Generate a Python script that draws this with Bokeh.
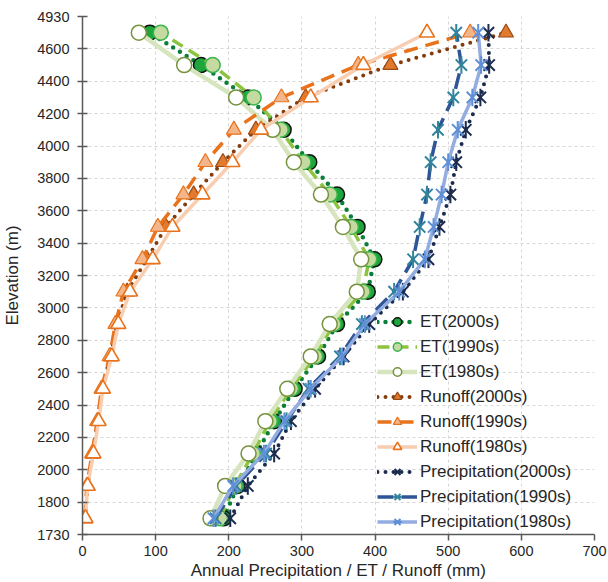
from bokeh.plotting import figure
from bokeh.models import FixedTicker, Legend, LegendItem
from bokeh.embed import file_html
from bokeh.resources import INLINE
import math

# Elevation band centres (m), bottom to top
elevation = [1830, 2030, 2230, 2430, 2630, 2830, 3030, 3230, 3430, 3630, 3830, 4030, 4230, 4430, 4630, 4830]

# ET (mm)
et_2000s = [193, 212, 238, 262, 290, 322, 348, 390, 399, 376, 348, 310, 275, 226, 162, 92]
et_1990s = [188, 208, 233, 256, 285, 318, 343, 383, 392, 367, 338, 302, 271, 234, 178, 107]
et_1980s = [175, 195, 227, 250, 280, 312, 338, 375, 381, 356, 326, 289, 260, 210, 139, 77]

# Runoff (mm)
runoff_2000s = [4, 7, 14, 21, 27, 38, 47, 61, 88, 114, 152, 192, 237, 305, 421, 579]
runoff_1990s = [3, 6, 13, 20, 26, 37, 45, 56, 82, 103, 138, 168, 207, 272, 377, 530]
runoff_1980s = [4, 7, 15, 22, 28, 40, 49, 65, 96, 123, 164, 205, 244, 312, 384, 471]

# Precipitation (mm)
precip_2000s = [202, 226, 262, 285, 318, 357, 392, 438, 473, 488, 503, 511, 524, 544, 556, 555]
precip_1990s = [182, 210, 251, 279, 309, 352, 382, 426, 452, 461, 471, 476, 486, 507, 518, 511]
precip_1980s = [179, 206, 248, 276, 312, 355, 386, 433, 468, 480, 491, 500, 513, 533, 545, 541]

y_ticks = [1730, 1930, 2130, 2330, 2530, 2730, 2930, 3130, 3330, 3530, 3730, 3930, 4130, 4330, 4530, 4730, 4930]
y_tick_labels = ["1730", "1800", "2000", "2200", "2400", "2600", "2800", "3000", "3200", "3400",
                 "3600", "3800", "4000", "4200", "4400", "4600", "4930"]
x_ticks = [0, 100, 200, 300, 400, 500, 600, 700]

FONT = "Liberation Sans"

p = figure(width=608, height=582, x_range=(0, 700), y_range=(1730, 4930),
           output_backend="svg", toolbar_location=None,
           min_border_left=82, min_border_right=14, min_border_top=16, min_border_bottom=48)
p.outline_line_color = None
p.background_fill_color = "white"

# axes
p.xaxis.ticker = FixedTicker(ticks=x_ticks)
p.yaxis.ticker = FixedTicker(ticks=y_ticks)
p.yaxis.major_label_overrides = {t: l for t, l in zip(y_ticks, y_tick_labels)}
for ax in (p.xaxis, p.yaxis):
    ax.axis_line_color = "#595959"
    ax.axis_line_width = 1.5
    ax.major_tick_line_color = "#595959"
    ax.major_tick_line_width = 1.5
    ax.minor_tick_line_color = None
    ax.major_label_text_font = FONT
    ax.major_label_text_font_size = "14.5px"
    ax.major_label_text_color = "#262626"
    ax.axis_label_text_font = FONT
    ax.axis_label_text_font_size = "17px"
    ax.axis_label_text_font_style = "normal"
    ax.axis_label_text_color = "#262626"
p.xaxis.major_tick_in = 0
p.xaxis.major_tick_out = 6
p.xaxis.major_label_standoff = 5
p.xaxis.axis_label_standoff = 2
p.yaxis.major_tick_in = 5
p.yaxis.major_tick_out = 5
p.yaxis.major_label_standoff = 8
p.yaxis.axis_label_standoff = 12
p.xaxis.axis_label = "Annual Precipitation / ET / Runoff (mm)"
p.yaxis.axis_label = "Elevation (m)"

for g in (p.xgrid, p.ygrid):
    g.grid_line_color = "#d6d6d6"
    g.grid_line_dash = "3 3"
    g.grid_line_width = 1

DOT = "0 8"

def series(xs, line_color, line_width, dash, kind, mcolor, mfill, msize, mlw):
    rs = []
    ln = p.line(xs, elevation, line_color=line_color, line_width=line_width,
                line_dash=dash, line_cap="round" if dash == DOT else "butt")
    rs.append(ln)
    if kind == "star":
        a = p.scatter(xs, elevation, marker="x", size=msize, line_color=mcolor, line_width=mlw)
        b = p.scatter(xs, elevation, marker="dash", size=msize * 1.1, angle=math.pi / 2,
                      line_color=mcolor, line_width=mlw)
        rs += [a, b]
    else:
        m = p.scatter(xs, elevation, marker=kind, size=msize, line_color=mcolor,
                      fill_color=mfill, line_width=mlw)
        rs.append(m)
    return rs

items = []
specs = [
    ("ET(2000s)", et_2000s, "#0b7f3a", 4.5, DOT, "circle", "#111111", "#1ea63c", 15, 1.5),
    ("ET(1990s)", et_1990s, "#8cc43f", 3.5, "12 7", "circle", "#39b54a", "#c5daa0", 15, 1.5),
    ("ET(1980s)", et_1980s, "#d6e5be", 4.5, "solid", "circle", "#76923c", "white", 15, 1.5),
    ("Runoff(2000s)", runoff_2000s, "#843c0c", 4, DOT, "triangle", "#9a4a14", "#e07a2e", 15, 1.2),
    ("Runoff(1990s)", runoff_1990s, "#e8731c", 3.5, "14 8", "triangle", "#e8731c", "#f5b58a", 15, 1.2),
    ("Runoff(1980s)", runoff_1980s, "#f9cdb0", 3.5, "solid", "triangle", "#e8731c", "white", 15, 1.6),
    ("Precipitation(2000s)", precip_2000s, "#1c2c4f", 4, DOT, "star", "#1c2c4f", None, 16, 2),
    ("Precipitation(1990s)", precip_1990s, "#2e5596", 3.5, "16 8", "star", "#31849b", None, 16, 2),
    ("Precipitation(1980s)", precip_1980s, "#93ade0", 3.5, "solid", "star", "#5f8fd6", None, 16, 2),
]
for name, xs, lc, lw, dash, kind, mc, mf, ms, mlw in specs:
    rs = series(xs, lc, lw, dash, kind, mc, mf, ms, mlw)
    items.append(LegendItem(label=name, renderers=rs))

legend = Legend(items=items, location=(295, 2))
legend.padding = 0
legend.margin = 0
legend.spacing = 4
legend.glyph_width = 40
legend.glyph_height = 21
legend.label_height = 21
legend.label_standoff = 3
legend.label_text_font = FONT
legend.label_text_font_size = "17px"
legend.label_text_color = "#262626"
legend.background_fill_alpha = 0
legend.border_line_color = None
p.add_layout(legend)

open("out.html", "w").write(file_html(p, INLINE))
